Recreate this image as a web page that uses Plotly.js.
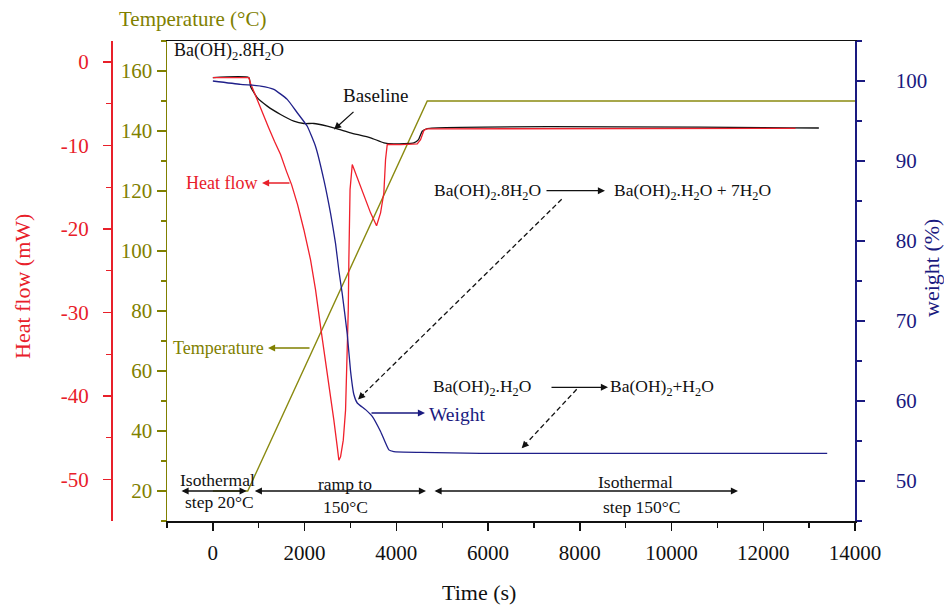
<!DOCTYPE html>
<html>
<head>
<meta charset="utf-8">
<script src="https://cdn.plot.ly/plotly-3.0.1.min.js"></script>
<style>html,body{margin:0;padding:0;background:#fff;}#chart{width:944px;height:605px;}</style>
</head>
<body>
<div id="chart"></div>
<script>
// ---- data ----
const heatTime = [0, 785, 822, 968, 1083, 1214, 1345, 1476, 1607, 1716, 1847, 1984, 2130, 2239, 2348, 2457, 2566, 2638, 2712, 2747, 2784, 2843, 2893, 2930, 2952, 2965, 2991, 3039, 3220, 3438, 3569, 3656, 3728, 3765, 3802, 4100, 4456, 4528, 4600, 4659, 12703];
const heatFlow = [-1.87, -1.87, -2.56, -4.6, -6.04, -7.84, -9.52, -11.08, -13.12, -14.68, -17.08, -20.08, -23.68, -27.28, -31.68, -35.68, -39.67, -42.88, -46.08, -47.68, -47.28, -45.28, -41.68, -35.68, -29.68, -23.68, -15.28, -12.28, -14.9, -18.06, -19.6, -18.06, -15.66, -11.67, -9.87, -9.9, -9.8, -9.3, -8.2, -8.0, -7.95];

const baseTime = [0, 785, 822, 968, 1186, 1476, 1766, 1984, 2202, 2494, 2712, 3002, 3438, 3728, 3946, 4382, 4484, 4565, 4674, 13212];
const baseline = [-1.87, -1.87, -2.92, -4.27, -5.28, -6.28, -7.08, -7.36, -7.36, -7.68, -7.99, -8.47, -9.07, -9.67, -9.79, -9.67, -9.28, -8.28, -7.96, -7.9];

const weightTime = [0, 604, 1040, 1330, 1622, 1840, 2058, 2239, 2420, 2566, 2675, 2747, 2821, 2930, 3002, 3074, 3148, 3329, 3475, 3656, 3837, 3946, 4528, 5836, 13394];
const weight = [100, 99.58, 99.37, 98.96, 97.7, 96.03, 94.34, 91.82, 87.64, 83.45, 79.67, 76.31, 73.38, 68.35, 63.74, 60.81, 59.75, 58.92, 58.08, 56.19, 53.89, 53.67, 53.58, 53.46, 53.46];

const tempTime = [0, 760, 4674, 14000];
const temperature = [20, 20, 150, 150];

const xTicks = [0, 2000, 4000, 6000, 8000, 10000, 12000, 14000];
const heatTicks = [0, -10, -20, -30, -40, -50];
const heatTickText = ['0', '-10', '-20', '-30', '-40', '-50'];

// ---- styling ----
const W = 944, H = 605;
const FONT = 'Liberation Serif, Times New Roman, serif';
const RED = '#e8202a', OLIVE = '#808000', NAVY = '#1a1a80', BLACK = '#111111';
const px = v => v / W, py = v => 1 - v / H;

function txt(x, y, text, color, size, xanchor) {
  return {xref:'paper', yref:'paper', x:px(x), y:py(y), text:text, showarrow:false,
          xanchor:xanchor||'center', yanchor:'middle', font:{family:FONT, size:size, color:color}};
}
function arrow(hx, hy, tx, ty, color, both) {
  return {xref:'paper', yref:'paper', x:px(hx), y:py(hy), ax:tx-hx, ay:ty-hy, text:'',
          showarrow:true, arrowhead:2, arrowsize:1.1, arrowwidth:1.3, arrowcolor:color,
          standoff:0, startstandoff:0, arrowside: both ? 'end+start' : 'end', startarrowhead:2, startarrowsize:1.1};
}
function dashed(tx, ty, hx, hy) {
  const dx = hx - tx, dy = hy - ty, L = Math.hypot(dx, dy);
  const ux = dx / L, uy = dy / L;
  const ex = hx - ux * 10, ey = hy - uy * 10;
  return {
    shape: {type:'line', xref:'paper', yref:'paper', x0:px(tx), y0:py(ty), x1:px(ex), y1:py(ey),
            line:{color:BLACK, width:1.3, dash:'5px,3px'}},
    ann: arrow(hx, hy, ex, ey, BLACK)
  };
}
const chem = 'Ba(OH)<sub>2</sub>';

const d1 = dashed(561.7, 199.3, 358, 399.5);
const d2 = dashed(576.7, 389.3, 521.7, 448.3);

const annotations = [
  txt(192.5, 19, 'Temperature (°C)', OLIVE, 21),
  {xref:'paper', yref:'paper', x:px(22), y:py(287), text:'Heat flow (mW)', showarrow:false, textangle:-90,
   xanchor:'center', yanchor:'middle', font:{family:FONT, size:22, color:RED}},
  {xref:'paper', yref:'paper', x:px(932), y:py(268), text:'weight (%)', showarrow:false, textangle:-90,
   xanchor:'center', yanchor:'middle', font:{family:FONT, size:22, color:NAVY}},
  txt(479, 592, 'Time (s)', BLACK, 22),
  txt(172, 52, chem + '.8H<sub>2</sub>O', BLACK, 18, 'left'),
  txt(341, 95, 'Baseline', BLACK, 19, 'left'),
  arrow(334, 129.5, 355, 110.5, BLACK),
  txt(259, 183, 'Heat flow', RED, 18, 'right'),
  arrow(262, 183, 291, 183, RED),
  txt(266, 348, 'Temperature', OLIVE, 18, 'right'),
  arrow(268, 348, 311, 348, OLIVE),
  txt(427, 414, 'Weight', NAVY, 19.5, 'left'),
  arrow(425, 413, 370, 413, NAVY),
  txt(432, 191, chem + '.8H<sub>2</sub>O', BLACK, 17.5, 'left'),
  arrow(605, 190.7, 545, 190.7, BLACK),
  txt(612, 191, chem + '.H<sub>2</sub>O + 7H<sub>2</sub>O', BLACK, 17.5, 'left'),
  txt(431, 387, chem + '.H<sub>2</sub>O', BLACK, 17.5, 'left'),
  arrow(608, 387.3, 550, 387.3, BLACK),
  txt(608, 387, chem + '+H<sub>2</sub>O', BLACK, 17.5, 'left'),
  d1.ann, d2.ann,
  arrow(246.7, 491, 180, 491, BLACK, true),
  arrow(426, 491, 253.3, 491, BLACK, true),
  arrow(738, 491, 433, 491, BLACK, true),
  txt(217, 480, 'Isothermal', BLACK, 17.5),
  txt(219, 502, 'step 20°C', BLACK, 17.5),
  txt(345, 484, 'ramp to', BLACK, 17.5),
  txt(345, 507, '150°C', BLACK, 17.5),
  txt(635, 482, 'Isothermal', BLACK, 17.5),
  txt(642, 507, 'step 150°C', BLACK, 17.5)
];

const traces = [
  {x: tempTime, y: temperature, type:'scatter', mode:'lines', name:'Temperature',
   line:{color:'#8a8a10', width:1.4}, xaxis:'x', yaxis:'y'},
  {x: baseTime, y: baseline, type:'scatter', mode:'lines', name:'Baseline',
   line:{color:BLACK, width:1.3, shape:'spline', smoothing:0.5}, xaxis:'x', yaxis:'y2'},
  {x: heatTime, y: heatFlow, type:'scatter', mode:'lines', name:'Heat flow',
   line:{color:'#f0202c', width:1.3}, xaxis:'x', yaxis:'y2'},
  {x: weightTime, y: weight, type:'scatter', mode:'lines', name:'Weight',
   line:{color:'#20208a', width:1.3, shape:'spline', smoothing:0.4}, xaxis:'x', yaxis:'y3'}
];

const yDom = [1 - 521 / H, 1 - 41 / H];
const layout = {
  width: W, height: H,
  margin: {l:0, r:0, t:0, b:0},
  paper_bgcolor:'#ffffff', plot_bgcolor:'#ffffff',
  showlegend:false,
  font:{family:FONT, size:21},
  xaxis: {
    domain:[167 / W, 855 / W], range:[-1000, 14000], anchor:'y',
    tickvals: xTicks, ticktext: xTicks.map(String),
    showgrid:false, zeroline:false, showline:true, linecolor:BLACK, linewidth:1.5, mirror:true,
    ticks:'outside', ticklen:8, tickwidth:1.5, tickcolor:BLACK,
    minor:{dtick:1000, tick0:0, ticklen:5, tickwidth:1.3, tickcolor:BLACK, ticks:'outside'},
    tickfont:{family:FONT, size:21, color:BLACK}, ticklabelstandoff:4
  },
  yaxis: {
    domain:yDom, range:[10, 170], anchor:'x', side:'left',
    dtick:20, tick0:0, showgrid:false, zeroline:false,
    showline:true, linecolor:OLIVE, linewidth:1.5,
    ticks:'outside', ticklen:9, tickwidth:1.5, tickcolor:OLIVE,
    minor:{dtick:10, tick0:0, ticklen:5, tickwidth:1.3, tickcolor:OLIVE, ticks:'outside'},
    tickfont:{family:FONT, size:21, color:OLIVE}, ticklabelstandoff:0
  },
  yaxis2: {
    domain:yDom, range:[-54.96, 2.52], overlaying:'y', anchor:'free', position:111 / W, side:'left',
    tickvals: heatTicks, ticktext: heatTickText, showgrid:false, zeroline:false,
    showline:true, linecolor:RED, linewidth:1.5,
    ticks:'outside', ticklen:8, tickwidth:1.5, tickcolor:RED,
    minor:{dtick:5, tick0:0, ticklen:5, tickwidth:1.3, tickcolor:RED, ticks:'outside'},
    tickfont:{family:FONT, size:21, color:RED}, ticklabelstandoff:10
  },
  yaxis3: {
    domain:yDom, range:[45, 105], overlaying:'y', anchor:'x', side:'right',
    dtick:10, tick0:0, showgrid:false, zeroline:false,
    showline:true, linecolor:NAVY, linewidth:1.5,
    ticks:'outside', ticklen:8, tickwidth:1.5, tickcolor:NAVY,
    minor:{dtick:5, tick0:0, ticklen:5, tickwidth:1.3, tickcolor:NAVY, ticks:'outside'},
    tickfont:{family:FONT, size:21, color:NAVY}, ticklabelstandoff:27
  },
  shapes:[d1.shape, d2.shape],
  annotations: annotations
};

Plotly.newPlot('chart', traces, layout, {staticPlot:true, displayModeBar:false});
</script>
</body>
</html>
